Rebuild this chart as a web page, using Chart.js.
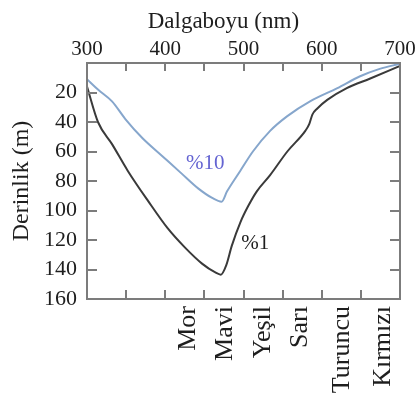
<!DOCTYPE html>
<html>
<head>
<meta charset="utf-8">
<script src="https://cdn.jsdelivr.net/npm/chart.js@4/dist/chart.umd.min.js"></script>
<style>
html,body{margin:0;padding:0;background:#fff;overflow:hidden;}
canvas{display:block;}
</style>
</head>
<body>
<canvas id="c" width="417" height="401"></canvas>
<script>
// ---- data ----
const blueNm    = [300,314,332,349,371,396,421,442,460,472,479,496,512,534,556,585,620,649,674,700];
const blueDepth = [11,18,26,38,51,63,75,85,91.5,94,87,73,60,46,36,26,17,9,4,0.5];
const blackNm    = [300,314,332,352,378,403,425,447,464,471,478,485,496,506,517,534,556,579,584,588,594,607,632,662,700];
const blackDepth = [16,40,55,73,93.5,112,125,136,142,143.5,137,124,108,97,87,76,60,46,41.5,35,31,25,17,10.5,2];
const seriesLabels = ['%10','%1'];
const labelPos = [[451,68],[515,122.5]];
const colorNames = ['Mor','Mavi','Yeşil','Sarı','Turuncu','Kırmızı'];
const colorPos   = [429,476,525,572,626,678];
const xTickValues = [300,350,400,450,500,550,600,650,700];
const yTickValues = [0,20,40,60,80,100,120,140,160];

const FONT = 'Liberation Serif';
const TXT = '#1e1e1e';
const BOX = '#7c7c7c';

const tickPlugin = {
  id: 'inwardTicks',
  afterDraw(chart) {
    const ctx = chart.ctx, a = chart.chartArea;
    const x = chart.scales.x, y = chart.scales.y;
    ctx.save();
    ctx.strokeStyle = BOX; ctx.lineWidth = 2;
    ctx.strokeRect(a.left, a.top, a.right - a.left, a.bottom - a.top);
    ctx.beginPath();
    xTickValues.forEach(v => {
      const px = Math.round(x.getPixelForValue(v));
      ctx.moveTo(px, a.top); ctx.lineTo(px, a.top + 8);
      ctx.moveTo(px, a.bottom); ctx.lineTo(px, a.bottom - 9);
    });
    yTickValues.forEach(v => {
      const py = Math.round(y.getPixelForValue(v));
      ctx.moveTo(a.left, py); ctx.lineTo(a.left + 10, py);
      ctx.moveTo(a.right, py); ctx.lineTo(a.right - 10, py);
    });
    ctx.stroke();
    // series labels
    ctx.font = '21px "' + FONT + '"';
    ctx.textAlign = 'center'; ctx.textBaseline = 'middle';
    const cols = ['#6464d2', '#1e1e1e'];
    seriesLabels.forEach((t, i) => {
      ctx.fillStyle = cols[i];
      ctx.fillText(t, x.getPixelForValue(labelPos[i][0]), y.getPixelForValue(labelPos[i][1]));
    });
    ctx.restore();
  }
};

new Chart(document.getElementById('c'), {
  type: 'line',
  data: {
    datasets: [
      { label: seriesLabels[0], data: blueNm.map((v,i)=>({x:v,y:blueDepth[i]})),
        borderColor: '#86a6cc', borderWidth: 2, pointRadius: 0, cubicInterpolationMode: 'monotone', fill: false },
      { label: seriesLabels[1], data: blackNm.map((v,i)=>({x:v,y:blackDepth[i]})),
        borderColor: '#3a3a3a', borderWidth: 2, pointRadius: 0, cubicInterpolationMode: 'monotone', fill: false }
    ]
  },
  options: {
    responsive: false, animation: false, devicePixelRatio: 1,
    layout: { padding: 0 },
    plugins: { legend: { display: false }, tooltip: { enabled: false } },
    scales: {
      x: {
        type: 'linear', position: 'top', min: 300, max: 700,
        ticks: { stepSize: 50, autoSkip: false, maxRotation: 0, padding: 1, color: TXT,
          font: { family: FONT, size: 21 },
          callback: v => (v % 100 === 0 ? String(v) : '') },
        grid: { display: false, drawTicks: false },
        border: { display: true, color: BOX, width: 2 },
        title: { display: true, text: 'Dalgaboyu (nm)' + '\u00a0'.repeat(7), color: TXT, font: { family: FONT, size: 23 }, padding: { top: 8, bottom: 0 } },
        afterFit: s => { s.height = 63; s.paddingLeft = 0; s.paddingRight = 0; }
      },
      x2: {
        type: 'linear', position: 'bottom', min: 300, max: 700,
        afterBuildTicks: s => { s.ticks = colorPos.map(v => ({ value: v })); },
        ticks: { autoSkip: false, minRotation: 90, maxRotation: 90, padding: 7, color: TXT,
          font: { family: FONT, size: 26 },
          callback: (v, i) => colorNames[i] },
        grid: { display: false, drawTicks: false },
        border: { display: true, color: BOX, width: 2 },
        afterFit: s => { s.height = 102; s.paddingLeft = 0; s.paddingRight = 0; }
      },
      y: {
        type: 'linear', position: 'left', min: 0, max: 160, reverse: true,
        ticks: { stepSize: 20, padding: 10, color: TXT, font: { family: FONT, size: 22 },
          callback: v => (v === 0 ? '' : String(v)) },
        grid: { display: false, drawTicks: false },
        border: { display: true, color: BOX, width: 2 },
        title: { display: true, text: 'Derinlik (m)', color: TXT, font: { family: FONT, size: 24 }, padding: { top: 7, bottom: 0 } },
        afterFit: s => { s.width = 87; s.paddingTop = 0; s.paddingBottom = 0; }
      },
      y2: {
        type: 'linear', position: 'right', min: 0, max: 160, reverse: true, display: true,
        ticks: { display: false },
        grid: { display: false, drawTicks: false },
        border: { display: true, color: BOX, width: 2 },
        afterFit: s => { s.width = 17; s.paddingTop = 0; s.paddingBottom = 0; }
      }
    }
  },
  plugins: [tickPlugin]
});
</script>
</body>
</html>
